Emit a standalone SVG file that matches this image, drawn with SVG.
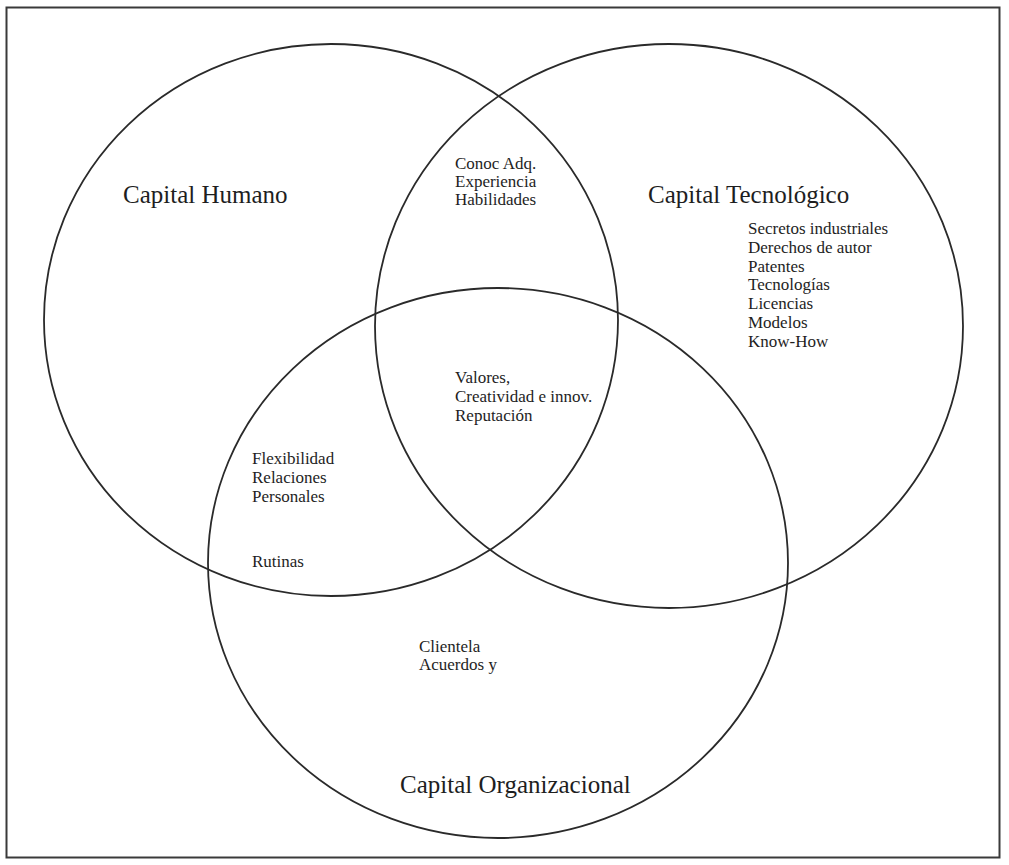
<svg xmlns="http://www.w3.org/2000/svg" width="1009" height="865" viewBox="0 0 1009 865">
<style>
.c{fill:none;stroke:#2a2a2a;stroke-width:1.8}
.t{font-family:"Liberation Serif",serif;fill:#1e1e1e}
.h{font-size:25px}
.s{font-size:17px}
</style>
<rect x="0" y="0" width="1009" height="865" fill="#ffffff"/>
<rect x="6.5" y="7.5" width="993" height="850" fill="none" stroke="#3a3a3a" stroke-width="2"/>
<g id="connectors"></g>
<g id="humano">
<ellipse class="c" cx="331" cy="320" rx="287" ry="276"/>
<text class="t h" x="123" y="203">Capital Humano</text>
</g>
<g id="tecnologico">
<ellipse class="c" cx="669" cy="326" rx="294" ry="282"/>
<text class="t h" x="648" y="203">Capital Tecnológico</text>
<text class="t s"><tspan x="748" y="234">Secretos industriales</tspan><tspan x="748" y="253">Derechos de autor</tspan><tspan x="748" y="272">Patentes</tspan><tspan x="748" y="290">Tecnologías</tspan><tspan x="748" y="309">Licencias</tspan><tspan x="748" y="328">Modelos</tspan><tspan x="748" y="347">Know-How</tspan></text>
</g>
<g id="organizacional">
<ellipse class="c" cx="498" cy="563" rx="290" ry="275"/>
<text class="t h" x="400" y="793">Capital Organizacional</text>
<text class="t s"><tspan x="419" y="652">Clientela</tspan><tspan x="419" y="670">Acuerdos y</tspan></text>
</g>
<g id="humano-tecnologico">
<text class="t s"><tspan x="455" y="169">Conoc Adq.</tspan><tspan x="455" y="187">Experiencia</tspan><tspan x="455" y="205">Habilidades</tspan></text>
</g>
<g id="centro">
<text class="t s"><tspan x="455" y="383">Valores,</tspan><tspan x="455" y="402">Creatividad e innov.</tspan><tspan x="455" y="421">Reputación</tspan></text>
</g>
<g id="humano-organizacional">
<text class="t s"><tspan x="252" y="464">Flexibilidad</tspan><tspan x="252" y="483">Relaciones</tspan><tspan x="252" y="502">Personales</tspan><tspan x="252" y="567">Rutinas</tspan></text>
</g>
</svg>
